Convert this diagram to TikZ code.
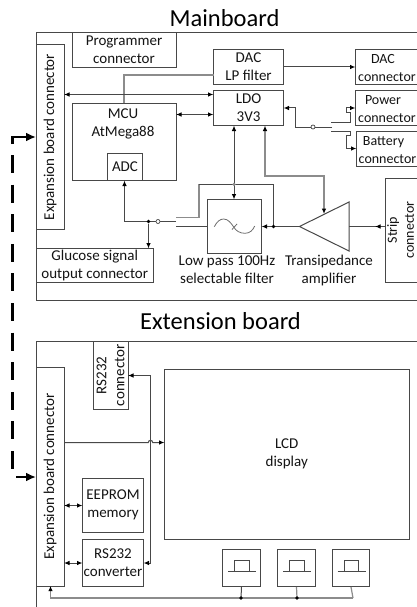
\documentclass[tikz,border=0pt]{standalone}
\usepackage{fontspec}
\setmainfont{Carlito}
\usetikzlibrary{arrows.meta,calc}
\definecolor{ln}{HTML}{484848}
\definecolor{lg}{HTML}{8C8C8C}
\tikzset{
  x=1pt,y=-1pt,
  wire/.style={draw=ln,line width=1pt},
  gwire/.style={draw=lg,line width=1.2pt},
  tipb/.style={{Latex[length=5.5pt,width=4.5pt,black]}-{Latex[length=5.5pt,width=4.5pt,black]}},
  tipe/.style={-{Latex[length=5.5pt,width=4.5pt,black]}},
  bigarrow/.style={draw=black,line width=2.5pt,-{Latex[length=10pt,width=9pt,black]}},
  bigdash/.style={draw=black,line width=2.5pt,dash pattern=on 18pt off 11.6pt},
  rbox/.style={draw=ln,line width=1pt,inner sep=0pt,align=center,font=\fontsize{15}{18}\selectfont,text=black!92},
  box/.style={rbox,execute at begin node={\vspace*{3pt}}},
  txt/.style={inner sep=0pt,align=center,font=\fontsize{15}{18}\selectfont,text=black!92},
  ctxt/.style={inner sep=0pt,align=center,font=\fontsize{14}{18}\selectfont,text=black!92},
  stxt/.style={inner sep=0pt,align=center,font=\fontsize{14}{17}\selectfont,text=black!92},
  title/.style={inner sep=0pt,font=\fontsize{24.5}{28}\selectfont,text=black},
  dot/.style={circle,fill=black,inner sep=0pt,minimum size=3.6pt},
  opendot/.style={circle,draw=ln,fill=white,line width=0.7pt,inner sep=0pt,minimum size=4pt},
}
\newcommand{\bx}[6][]{\node[box,minimum width=#4pt-#3pt,minimum height=#6pt-#5pt,#1] (#2) at ({(#3+#4)/2},{(#5+#6)/2})}
\begin{document}
\begin{tikzpicture}
\useasboundingbox (0,0) rectangle (417,607);
\fill[white] (0,0) rectangle (417,607);

\node[title] (t1) at (224.5,18) {Mainboard};
\node[title] (t2) at (220.5,321) {Extension board};

% frames
\coordinate (fa) at (425,32.5); \coordinate (fb) at (36.5,32.5);
\coordinate (fc) at (36.5,300); \coordinate (fd) at (425,300);
\draw[wire] (fa) -- (fb) -- (fc) -- (fd);
\coordinate (ga) at (425,341.5); \coordinate (gb) at (36.5,341.5); \coordinate (gc) at (36.5,612);
\draw[wire] (ga) -- (gb) -- (gc);

% mainboard blocks
\node[rbox,rotate=90,minimum width=184pt,minimum height=27.5pt] (exp1) at (50.25,137) {Expansion board connector};
\bx{prog}{72}{176}{32.5}{67.5} {Programmer\\connector};
\bx{mcu}{72}{176}{103.5}{180.5} {};
\node[txt] (mcut) at (123,123.5) {MCU\\AtMega88};
\bx{adc}{107.5}{142.5}{153.5}{180.5} {ADC};
\bx{lp}{213.5}{283.5}{49.5}{84.5} {DAC\\LP filter};
\bx{ldo}{213.5}{283.5}{90.5}{125.5} {LDO\\3V3};
\bx{dac}{355.5}{425}{49.5}{84.5} {};
\node[ctxt] (dact) at (387,68.5) {\hspace*{-8pt}DAC\\connector};
\bx{pwr}{355.5}{425}{90.5}{125.5} {};
\node[ctxt] (pwrt) at (387,109.5) {\hspace*{-8pt}Power\\connector};
\bx{bat}{356.5}{425}{131.5}{166.5} {};
\node[ctxt] (batt) at (387.5,150.5) {\hspace*{-8pt}Battery\\connector};
\node[rbox,rotate=90,minimum width=104pt,minimum height=40pt] (strip) at (405,230) {};
\node[stxt,rotate=90] (stript) at (400.5,230) {Strip\\connector};
\bx{flt}{207.5}{261.5}{199.5}{253} {};
\bx{glu}{36.5}{153}{248.5}{282.5} {Glucose signal\\output connector};
\node[txt] (fltt) at (227,270) {Low pass 100Hz\\selectable filter};
\node[txt] (ampt) at (329,270) {Transipedance\\amplifier};

% amp
\coordinate (apx) at (299.5,226.5);
\coordinate (aup) at (349,202);
\coordinate (adn) at (349,251);
\coordinate (aout) at (349,226.5);
\draw[wire] (apx) -- (aup) -- (adn) -- cycle;

% filter symbol
\coordinate (s1) at (214.3,226.7); \coordinate (s2) at (223.7,219); \coordinate (s3) at (233.7,227);
\coordinate (s4) at (245,233.3); \coordinate (s5) at (254.7,226);
\coordinate (s6) at (232,229.5); \coordinate (s7) at (237,224);
\draw[draw=ln!80,line width=0.8pt] (s1) .. controls (217,221.5) and (220,219) .. (s2) .. controls (228,219) and (231,223) .. (s3) .. controls (236,231) and (240,233.3) .. (s4) .. controls (250,233.3) and (253,230) .. (s5);
\draw[draw=ln!80,line width=0.8pt] (s6) -- (s7);

% connectors, mainboard
\coordinate (g1) at (124,103.5); \coordinate (g2) at (124,75); \coordinate (g3) at (213.5,75);
\draw[gwire] (g1) -- (g2) -- (g3);
\coordinate (bl) at (64,94.5); \coordinate (br) at (213.5,94.5);
\draw[wire,tipb] (bl) -- (br);
\coordinate (ml) at (176,114.5); \coordinate (mr) at (213.5,114.5);
\draw[wire,tipb] (ml) -- (mr);
\coordinate (d1) at (283.5,67); \coordinate (d2) at (355.5,67);
\draw[wire,tipe] (d1) -- (d2);

% power switch
\coordinate (p0) at (332,127); \coordinate (p1) at (295,127); \coordinate (p2) at (295,108); \coordinate (p3) at (283.5,108);
\draw[wire,tipe] (p0) -- (p1) -- (p2) -- (p3);
\node[opendot] (sw1) at (313,127) {};
\coordinate (q0) at (331,122.5); \coordinate (q1) at (350,122.5); \coordinate (q2) at (350,113); \coordinate (q3) at (346,113); \coordinate (q4) at (346,108); \coordinate (q5) at (355.5,108);
\draw[wire,tipe] (q0) -- (q1) -- (q2) -- (q3) -- (q4) -- (q5);
\coordinate (r0) at (331,131) ; \coordinate (r1) at (350,131); \coordinate (r2) at (350,135.5); \coordinate (r3) at (346,135.5); \coordinate (r4) at (346,148.5); \coordinate (r5) at (356.5,148.5);
\draw[wire,tipe] (r0) -- (r1) -- (r2) -- (r3) -- (r4) -- (r5);

% filter switch
\coordinate (a0) at (176,221.5); \coordinate (a1) at (124.5,221.5); \coordinate (a2) at (124.5,180.5);
\draw[wire,tipe] (a0) -- (a1) -- (a2);
\node[dot] (j1) at (148.5,221.5) {};
\node[opendot] (sw2) at (158,221.5) {};
\coordinate (a3) at (148.5,248.5);
\draw[wire,tipe] (j1) -- (a3);
\coordinate (b0) at (176,217.3); \coordinate (b1) at (199,217.3); \coordinate (b2) at (199,184.3);
\coordinate (b3) at (273.5,184.3); \coordinate (b4) at (273.5,226.5);
\draw[gwire] (b0) -- (b1) -- (b2);
\draw[wire] (b2) -- (b3) -- (b4);
\coordinate (c0) at (176,226.3); \coordinate (c1) at (207.5,226.3);
\draw[wire] (c0) -- (c1);

% ldo to filter
\coordinate (e1) at (234,125.5); \coordinate (e2) at (234,199.5);
\draw[wire,tipb] (e1) -- (e2);
\node[circle,fill=lg,inner sep=0pt,minimum size=3.5pt] (j2) at (234,184.3) {};
% ldo to amp
\coordinate (h1) at (265,125.5); \coordinate (h2) at (265,176); \coordinate (h3) at (324,176); \coordinate (h4) at (324,214);
\draw[gwire,{Latex[length=5.5pt,width=4.5pt,black]}-{Latex[length=5.5pt,width=4.5pt,black]}] (h1) -- (h2) -- (h3) -- (h4);
% signal chain
\draw[wire,tipe] (apx) -- (261.5,226.5);
\node[dot] (j3) at (273.5,226.5) {};
\coordinate (st) at (385,226.5);
\draw[wire] (aout) -- (st);
\coordinate (st2) at (375,226.5);
\draw[wire,tipe] (st) -- (st2);

% extension blocks
\node[rbox,rotate=90,minimum width=219pt,minimum height=27.5pt] (exp2) at (50.25,476.5) {Expansion board connector};
\node[rbox,rotate=90,minimum width=67.5pt,minimum height=35pt] (rsc) at (110.5,375.25) {RS232\\connector};
\bx{lcd}{164.5}{409}{369}{539} {LCD\\display};
\bx{eep}{82.5}{143.5}{478.5}{532} {EEPROM\\memory};
\bx{rsb}{82.5}{143.5}{539.5}{586} {RS232\\converter};

% buttons
\foreach \n/\dx in {1/0,2/55,3/109.5}{
  \node[draw=ln,line width=1pt,inner sep=0pt,minimum width=37.5pt,minimum height=37.5pt] (btn\n) at ({241.5+\dx},567.75) {};
  \draw[draw=ln,line width=1pt] ({228+\dx},571.7) -- ({256+\dx},571.7);
  \draw[draw=ln,line width=1pt] ({234.7+\dx},571.7) -- ({234.7+\dx},560.7) -- ({249.3+\dx},560.7) -- ({249.3+\dx},571.7);
}

% connectors, extension
\coordinate (k1) at (64,442.5); \coordinate (k2) at (148.3,442.5); \coordinate (k3) at (152.7,442.5); \coordinate (k4) at (164.5,442.5);
\draw[wire,tipe] (k1) -- (k2) arc[start angle=180,end angle=0,radius=2.2pt] -- (k4);
\coordinate (v1) at (128,375.5); \coordinate (v2) at (150.5,375.5); \coordinate (v3) at (150.5,563); \coordinate (v4) at (143.5,563);
\draw[wire,tipb] (v1) -- (v2) -- (v3) -- (v4);
\coordinate (n1) at (64,505.5); \coordinate (n2) at (82.5,505.5);
\draw[wire,tipb] (n1) -- (n2);
\coordinate (m1) at (64,563); \coordinate (m2) at (82.5,563);
\draw[wire,tipb] (m1) -- (m2);
\coordinate (bu0) at (50.5,586); \coordinate (bu1) at (50.5,598); \coordinate (bu2) at (353,598);
\draw[gwire,{Latex[length=5pt,width=4.5pt,black]}-] (bu0) -- (bu1) -- (bu2);
\coordinate (bu3) at (241,598); \coordinate (bu4) at (297,598);
\draw[wire] (btn1.south) -- (bu3);
\draw[gwire] (btn2.south) -- (bu4);
\draw[gwire] (btn3.south) -- (bu2);
\node[dot] (j4) at (bu3) {};
\node[dot] (j5) at (bu4) {};

% link between boards
\coordinate (l0) at (12.5,144); \coordinate (l1) at (12.5,137); \coordinate (l2) at (36,137);
\draw[draw=black,line width=2.5pt,-{Latex[length=10pt,width=9pt,black]}] (l0) -- (l1) -- (l2);
\coordinate (l3) at (12.5,155); \coordinate (l4) at (12.5,470);
\draw[bigdash] (l3) -- (l4);
\coordinate (l5) at (16,477); \coordinate (l6) at (36,477);
\draw[bigarrow] (l5) -- (l6);
\end{tikzpicture}
\end{document}
